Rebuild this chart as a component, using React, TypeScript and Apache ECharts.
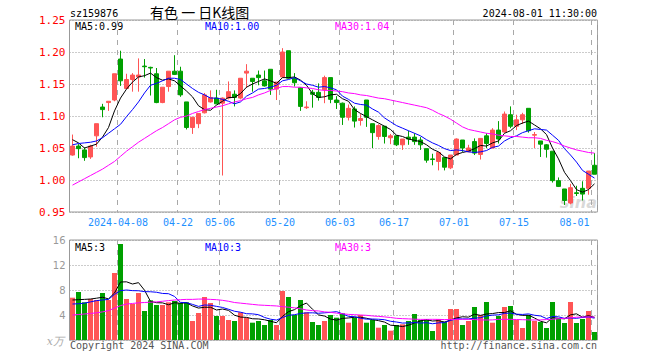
import React, { useEffect, useRef } from 'react';
import * as echarts from 'echarts';

const dates = [
  '2024-03-25','2024-03-26','2024-03-27','2024-03-28','2024-03-29',
  '2024-04-01','2024-04-02','2024-04-03','2024-04-08','2024-04-09','2024-04-10','2024-04-11','2024-04-12',
  '2024-04-15','2024-04-16','2024-04-17','2024-04-18','2024-04-19',
  '2024-04-22','2024-04-23','2024-04-24','2024-04-25','2024-04-26','2024-04-29','2024-04-30',
  '2024-05-06','2024-05-07','2024-05-08','2024-05-09','2024-05-10',
  '2024-05-13','2024-05-14','2024-05-15','2024-05-16','2024-05-17',
  '2024-05-20','2024-05-21','2024-05-22','2024-05-23','2024-05-24',
  '2024-05-27','2024-05-28','2024-05-29','2024-05-30','2024-05-31',
  '2024-06-03','2024-06-04','2024-06-05','2024-06-06','2024-06-07',
  '2024-06-11','2024-06-12','2024-06-13','2024-06-14',
  '2024-06-17','2024-06-18','2024-06-19','2024-06-20','2024-06-21',
  '2024-06-24','2024-06-25','2024-06-26','2024-06-27','2024-06-28',
  '2024-07-01','2024-07-02','2024-07-03','2024-07-04','2024-07-05',
  '2024-07-08','2024-07-09','2024-07-10','2024-07-11','2024-07-12',
  '2024-07-15','2024-07-16','2024-07-17','2024-07-18','2024-07-19',
  '2024-07-22','2024-07-23','2024-07-24','2024-07-25','2024-07-26',
  '2024-07-29','2024-07-30','2024-07-31','2024-08-01'
];

const opens = [
  1.039,1.053,1.047,1.036,1.069,1.114,1.121,1.125,1.189,1.143,
  1.157,1.161,1.178,1.176,1.166,1.121,1.146,1.170,1.170,1.122,
  1.082,1.088,1.105,1.122,1.128,1.120,1.128,1.134,1.128,1.167,
  1.159,1.164,1.155,1.173,1.142,1.161,1.202,1.159,1.144,1.113,
  1.137,1.137,1.141,1.160,1.125,1.120,1.098,1.111,1.093,1.125,
  1.088,1.068,1.084,1.066,1.069,1.055,1.067,1.067,1.0625,1.049,
  1.033,1.029,1.035,1.019,1.039,1.0625,1.044,1.060,1.040,1.069,
  1.050,1.078,1.075,1.102,1.084,1.094,1.112,1.070,1.061,1.055,
  1.045,0.999,0.986,0.964,0.980,0.987,0.987,1.023
];
const closes = [
  1.053,1.049,1.035,1.053,1.088,1.110,1.123,1.166,1.155,1.157,
  1.164,1.164,1.177,1.175,1.121,1.145,1.170,1.165,1.133,1.082,
  1.098,1.104,1.133,1.129,1.119,1.128,1.138,1.129,1.159,1.170,
  1.154,1.160,1.147,1.142,1.153,1.200,1.159,1.152,1.115,1.114,
  1.134,1.129,1.160,1.126,1.121,1.098,1.112,1.092,1.096,1.098,
  1.074,1.085,1.068,1.069,1.055,1.064,1.064,1.060,1.055,1.031,
  1.032,1.043,1.020,1.039,1.064,1.050,1.050,1.042,1.065,1.057,
  1.078,1.064,1.103,1.084,1.094,1.102,1.077,1.071,1.056,1.048,
  0.999,0.990,0.968,0.988,0.979,0.978,1.014,1.009
];
const lows = [
  1.038,1.034,1.030,1.033,1.052,1.098,1.108,1.123,1.147,1.142,
  1.138,1.138,1.160,1.132,1.120,1.120,1.138,1.164,1.130,1.079,
  1.072,1.081,1.104,1.121,1.119,1.007,1.126,1.115,1.126,1.144,
  1.138,1.148,1.146,1.133,1.125,1.160,1.158,1.146,1.108,1.111,
  1.113,1.124,1.120,1.120,1.111,1.086,1.093,1.082,1.085,1.083,
  1.050,1.063,1.057,1.056,1.053,1.047,1.055,1.055,1.047,1.027,
  1.023,1.015,1.015,1.017,1.039,1.044,1.044,1.039,1.032,1.050,
  1.050,1.057,1.074,1.081,1.078,1.0875,1.074,1.050,1.036,1.035,
  0.996,0.989,0.961,0.962,0.975,0.968,0.977,1.009
];
const highs = [
  1.071,1.056,1.051,1.055,1.088,1.119,1.123,1.166,1.202,1.166,
  1.167,1.190,1.189,1.177,1.175,1.145,1.170,1.195,1.177,1.122,
  1.098,1.104,1.136,1.140,1.141,1.129,1.154,1.140,1.159,1.181,
  1.159,1.171,1.171,1.173,1.153,1.206,1.202,1.167,1.145,1.123,
  1.141,1.151,1.163,1.160,1.131,1.121,1.118,1.115,1.103,1.125,
  1.088,1.087,1.084,1.072,1.070,1.064,1.077,1.073,1.067,1.049,
  1.041,1.043,1.035,1.039,1.065,1.0625,1.055,1.065,1.065,1.073,
  1.081,1.092,1.107,1.115,1.102,1.105,1.112,1.075,1.061,1.056,
  1.045,1.004,0.986,0.994,0.991,0.998,1.014,1.042
];

const ma5 = [
  1.063,1.058,1.050,1.053,1.056,1.067,1.082,1.108,1.128,1.142,
  1.153,1.161,1.163,1.167,1.160,1.156,1.158,1.155,1.147,1.139,
  1.130,1.116,1.110,1.109,1.117,1.123,1.129,1.129,1.135,1.145,
  1.150,1.154,1.158,1.155,1.151,1.160,1.160,1.161,1.156,1.148,
  1.135,1.129,1.130,1.133,1.134,1.127,1.123,1.110,1.104,1.099,
  1.094,1.089,1.084,1.079,1.070,1.068,1.064,1.062,1.060,1.055,
  1.048,1.044,1.036,1.033,1.040,1.043,1.045,1.049,1.054,1.053,
  1.058,1.061,1.073,1.077,1.085,1.089,1.092,1.086,1.080,1.071,
  1.050,1.033,1.012,0.999,0.985,0.981,0.985,0.994
];
const ma10 = [
  1.055,1.057,1.058,1.059,1.061,1.066,1.073,1.080,1.087,1.099,
  1.110,1.122,1.136,1.148,1.151,1.155,1.159,1.159,1.157,1.150,
  1.143,1.137,1.133,1.128,1.128,1.126,1.123,1.119,1.122,1.131,
  1.136,1.142,1.143,1.145,1.148,1.155,1.157,1.160,1.155,1.150,
  1.148,1.145,1.146,1.144,1.141,1.131,1.126,1.120,1.118,1.117,
  1.111,1.106,1.097,1.091,1.085,1.081,1.077,1.073,1.069,1.063,
  1.058,1.054,1.049,1.046,1.047,1.046,1.044,1.043,1.044,1.046,
  1.051,1.053,1.061,1.066,1.069,1.074,1.077,1.080,1.079,1.078,
  1.070,1.062,1.049,1.039,1.028,1.015,1.009,1.003
];
const ma30 = [
  0.992,0.997,1.002,1.007,1.012,1.017,1.023,1.029,1.037,1.045,
  1.052,1.059,1.065,1.071,1.077,1.082,1.088,1.094,1.098,1.100,
  1.104,1.107,1.110,1.112,1.114,1.116,1.119,1.122,1.124,1.127,
  1.129,1.133,1.136,1.140,1.143,1.146,1.146,1.145,1.145,1.144,
  1.143,1.141,1.140,1.140,1.139,1.138,1.136,1.135,1.133,1.132,
  1.130,1.128,1.127,1.125,1.123,1.121,1.119,1.117,1.115,1.113,
  1.109,1.104,1.100,1.095,1.089,1.083,1.079,1.077,1.075,1.073,
  1.072,1.070,1.069,1.068,1.068,1.067,1.066,1.066,1.065,1.062,
  1.060,1.057,1.053,1.050,1.047,1.045,1.043,1.042
];

const volumes = [
  6.77,7.68,6.03,6.56,6.4,7.52,6.4,10.72,15.36,6.56,
  5.76,7.52,4.64,6.35,5.6,5.6,6.03,6.24,5.92,6.03,
  3.04,4.32,6.88,5.92,3.84,3.84,3.2,3.04,4.43,3.57,
  2.77,3.04,2.4,3.2,2.4,7.84,6.88,4.0,6.4,4.43,
  2.88,2.4,3.04,4.0,3.57,4.27,2.77,3.57,4.0,2.77,
  3.2,1.97,2.4,1.49,2.4,2.51,3.04,4.16,3.2,3.36,
  1.44,3.36,2.93,4.96,4.96,2.4,3.04,5.28,4.0,6.08,
  2.77,3.84,5.28,5.44,3.2,1.92,4.0,3.04,2.88,1.92,
  6.08,3.36,2.72,6.08,2.72,3.36,4.64,1.28
];
const volMa5 = [
  6.4,6.45,6.5,6.56,6.69,6.84,6.58,7.52,9.28,9.31,
  8.96,9.18,7.97,6.17,5.97,5.94,5.64,5.96,5.88,5.96,
  5.45,5.11,5.24,5.24,4.8,4.96,4.74,3.97,3.67,3.62,
  3.4,3.37,3.24,3.0,2.76,3.78,4.54,4.86,5.5,5.91,
  4.92,4.02,3.83,3.35,3.18,3.46,3.53,3.64,3.64,3.48,
  3.26,3.1,2.87,2.37,2.29,2.15,2.37,2.72,3.06,3.25,
  3.04,3.1,2.86,3.21,3.53,3.72,3.66,4.13,3.94,4.16,
  4.23,4.39,4.39,4.68,4.11,3.94,3.97,3.52,3.01,2.75,
  3.58,3.46,3.39,4.03,4.19,3.65,3.9,3.62
];
const volMa10 = [
  5.76,5.8,5.9,6.1,6.3,6.4,6.5,7.3,7.9,8.0,
  7.9,7.88,7.74,7.72,7.64,7.45,7.41,6.97,6.02,5.97,
  5.7,5.38,5.6,5.56,5.38,5.21,4.92,4.6,4.45,4.21,
  4.18,4.05,3.61,3.33,3.19,3.59,3.96,4.05,4.25,4.34,
  4.35,4.28,4.35,4.43,4.54,4.19,3.78,3.73,3.49,3.33,
  3.36,3.32,3.25,3.0,2.88,2.71,2.74,2.79,2.71,2.77,
  2.6,2.74,2.79,3.14,3.39,3.38,3.38,3.49,3.57,3.85,
  3.98,4.03,4.26,4.31,4.13,4.09,4.18,3.96,3.85,3.43,
  3.76,3.71,3.46,3.52,3.47,3.62,3.68,3.5
];
const volMa30 = [
  4.0,4.08,4.16,4.25,4.35,4.5,4.7,5.1,5.5,5.75,
  5.85,5.95,6.0,6.05,6.1,6.2,6.3,6.4,6.45,6.5,
  6.5,6.55,6.55,6.5,6.45,6.35,6.2,6.0,5.9,5.8,
  5.7,5.6,5.55,5.5,5.45,5.35,5.25,5.15,5.0,4.8,
  4.7,4.65,4.5,4.43,4.3,4.2,4.1,4.05,4.0,3.95,
  3.85,3.78,3.7,3.6,3.47,3.42,3.38,3.33,3.3,3.3,
  3.31,3.3,3.27,3.27,3.3,3.31,3.3,3.27,3.22,3.2,
  3.22,3.3,3.31,3.31,3.28,3.25,3.22,3.2,3.22,3.27,
  3.33,3.4,3.47,3.55,3.65,3.68,3.68,3.68
];

const dateLabelIndices = [8, 18, 25, 35, 45, 54, 64, 74, 87];
const priceLegend = ['MA5:0.99', 'MA10:1.00', 'MA30:1.04'];
const volumeLegend = ['MA5:3', 'MA10:3', 'MA30:3'];

const UP = '#ff5555';
const DOWN = '#00a000';
const MONO = '"DejaVu Sans Mono", "Liberation Mono", monospace';
const GRIDC = '#a8a8a8';

export default function App() {
  const ref = useRef<HTMLDivElement>(null);
  useEffect(() => {
    if (!ref.current) return;
    const chart = echarts.init(ref.current, null, { renderer: 'svg' });
    const labelSet = new Set(dateLabelIndices);
    const candleData = dates.map((_, i) => [opens[i], closes[i], lows[i], highs[i]]);
    const volData = volumes.map((v, i) => ({
      value: v,
      itemStyle: { color: closes[i] >= opens[i] ? UP : DOWN },
    }));
    const lineS = (data: number[], color: string, axis: number) => ({
      type: 'line',
      data,
      xAxisIndex: axis,
      yAxisIndex: axis,
      symbol: 'none',
      showSymbol: false,
      silent: true,
      lineStyle: { width: 1, color },
      itemStyle: { color },
      z: 5,
    });
    const legendColors = ['#000000', '#0000ff', '#ff00ff'];
    const legendX = [75, 205, 335];
    const graphics: any[] = [
      { type: 'text', x: 70, y: 13, style: { text: 'sz159876', font: `10px ${MONO}`, fill: '#000', verticalAlign: 'middle' } },
      { type: 'text', x: 150, y: 12, style: { text: '有色 一 日K线图', font: '14px "Noto Sans CJK SC"', fill: '#000', verticalAlign: 'middle' } },
      { type: 'text', x: 597, y: 13, style: { text: '2024-08-01 11:30:00', font: `10px ${MONO}`, fill: '#000', align: 'right', verticalAlign: 'middle' } },
      { type: 'text', x: 70, y: 345, style: { text: 'Copyright 2024 SINA.COM', font: `10px ${MONO}`, fill: '#555', verticalAlign: 'middle' } },
      { type: 'text', x: 597, y: 345, style: { text: 'http://finance.sina.com.cn', font: `10px ${MONO}`, fill: '#555', align: 'right', verticalAlign: 'middle' } },
      { type: 'text', x: 64, y: 341, style: { text: 'x万', font: 'italic 11px "DejaVu Serif"', fill: '#aaa', align: 'right', verticalAlign: 'middle' } },
      { type: 'text', x: 597, y: 202, z: 0, style: { text: 'sina', font: 'italic bold 16px "DejaVu Sans"', fill: 'rgba(170,170,170,0.45)', align: 'right', verticalAlign: 'middle' } },
    ];
    priceLegend.forEach((t, k) => {
      graphics.push({ type: 'text', x: legendX[k], y: 26, style: { text: t, font: `10px ${MONO}`, fill: legendColors[k], verticalAlign: 'middle' } });
    });
    volumeLegend.forEach((t, k) => {
      graphics.push({ type: 'text', x: legendX[k], y: 247, style: { text: t, font: `10px ${MONO}`, fill: legendColors[k], verticalAlign: 'middle' } });
    });

    const xBase = (gi: number, showLabel: boolean) => ({
      type: 'category',
      gridIndex: gi,
      data: dates,
      boundaryGap: true,
      axisLine: { show: false },
      axisTick: { show: false },
      axisPointer: { show: false },
      axisLabel: {
        show: showLabel,
        interval: (idx: number) => labelSet.has(idx),
        formatter: (val: string, idx: number) => (idx === 8 ? val : val.slice(5)),
        color: '#1e90ff',
        fontFamily: MONO,
        fontSize: 10,
        margin: 5,
        padding: [0, 5, 0, 0],
        alignMaxLabel: 'right',
      },
      splitLine: {
        show: true,
        interval: (idx: number) => labelSet.has(idx),
        lineStyle: { color: GRIDC, type: [5, 5], width: 1 },
      },
    });

    chart.setOption({
      animation: false,
      backgroundColor: '#fff',
      grid: [
        { left: 69.5, width: 528, top: 20, height: 192, show: true, borderColor: '#999', borderWidth: 1, backgroundColor: 'transparent' },
        { left: 69.5, width: 528, top: 240, height: 100, show: true, borderColor: '#999', borderWidth: 1, backgroundColor: 'transparent' },
      ],
      xAxis: [xBase(0, true), xBase(1, false)],
      yAxis: [
        {
          type: 'value', gridIndex: 0, min: 0.95, max: 1.25, interval: 0.05,
          axisLine: { show: false }, axisTick: { show: false },
          axisLabel: { color: '#ff0000', fontFamily: MONO, fontSize: 11, margin: 4, formatter: (v: number) => v.toFixed(2) },
          splitLine: { show: true, lineStyle: { color: '#999', type: [1, 2], width: 1 } },
        },
        {
          type: 'value', gridIndex: 1, min: 0, max: 16, interval: 4,
          axisLine: { show: false }, axisTick: { show: false },
          axisLabel: { color: '#999', fontFamily: '"DejaVu Sans"', fontSize: 10, margin: 4, formatter: (v: number) => (v === 0 ? '' : String(v)) },
          splitLine: { show: true, lineStyle: { color: '#999', type: [1, 2], width: 1 } },
        },
      ],
      series: [
        {
          type: 'candlestick',
          xAxisIndex: 0,
          yAxisIndex: 0,
          data: candleData,
          barWidth: 4,
          silent: true,
          itemStyle: { color: UP, color0: DOWN, borderColor: UP, borderColor0: DOWN, borderWidth: 1 },
          z: 3,
        },
        lineS(ma5, '#000000', 0),
        lineS(ma10, '#0000ff', 0),
        lineS(ma30, '#ff00ff', 0),
        {
          type: 'bar',
          xAxisIndex: 1,
          yAxisIndex: 1,
          data: volData,
          barWidth: 5,
          silent: true,
          z: 3,
        },
        lineS(volMa5, '#000000', 1),
        lineS(volMa10, '#0000ff', 1),
        lineS(volMa30, '#ff00ff', 1),
      ],
      graphic: graphics,
    });
    return () => chart.dispose();
  }, []);
  return <div ref={ref} style={{ position: 'fixed', left: 0, top: 0, width: 660, height: 360 }} />;
}
